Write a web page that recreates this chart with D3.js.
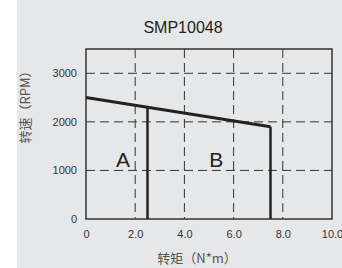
<!DOCTYPE html>
<html>
<head>
<meta charset="utf-8">
<script src="https://cdn.jsdelivr.net/npm/d3@7"></script>
<style>
  body { margin: 0; background: #fff; }
  svg { display: block; }
</style>
</head>
<body>
<div id="chart"></div>
<script>
// data
const title = "SMP10048";
const xTicks = [0, 2, 4, 6, 8, 10];
const yTicks = [0, 1000, 2000, 3000];
const curveTorque = [0, 2.5, 7.5];
const curveSpeed = [2500, 2300, 1900];
const zoneLabels = ["A", "B"];
const zoneLabelX = [1.5, 5.3];
const zoneLabelY = [1070, 1070];

const width = 342, height = 268;
const margin = {left: 86, right: 10, top: 49, bottom: 49};

const svg = d3.select("#chart").append("svg")
    .attr("width", width)
    .attr("height", height);

// grey panel
svg.append("rect")
    .attr("x", 17).attr("y", 0)
    .attr("width", width - 17).attr("height", height)
    .attr("fill", "#e6e7e8");

const x = d3.scaleLinear().domain([0, 10]).range([margin.left, width - margin.right]);
const y = d3.scaleLinear().domain([0, 3500]).range([height - margin.bottom, margin.top]);

// dashed grid
const grid = svg.append("g")
    .attr("stroke", "#333")
    .attr("stroke-width", 1)
    .attr("stroke-dasharray", "9,5");

grid.selectAll("line.v")
  .data(xTicks.slice(1, -1))
  .join("line")
    .attr("class", "v")
    .attr("x1", d => x(d)).attr("x2", d => x(d))
    .attr("y1", y(3500)).attr("y2", y(0));

grid.selectAll("line.h")
  .data(yTicks.slice(1))
  .join("line")
    .attr("class", "h")
    .attr("x1", x(0)).attr("x2", x(10))
    .attr("y1", d => y(d)).attr("y2", d => y(d));

// frame
svg.append("rect")
    .attr("x", x(0)).attr("y", y(3500))
    .attr("width", x(10) - x(0)).attr("height", y(0) - y(3500))
    .attr("fill", "none")
    .attr("stroke", "#333")
    .attr("stroke-width", 1.5);

// tick labels
const yAxis = svg.append("g")
    .attr("transform", `translate(${x(0)},0)`)
    .call(d3.axisLeft(y).tickValues(yTicks).tickSize(0).tickPadding(9).tickFormat(d3.format("d")));
yAxis.select(".domain").remove();

const xAxis = svg.append("g")
    .attr("transform", `translate(0,${y(0)})`)
    .call(d3.axisBottom(x).tickValues(xTicks).tickSize(0).tickPadding(11)
      .tickFormat(d => d === 0 ? "0" : d3.format(".1f")(d)));
xAxis.select(".domain").remove();

svg.selectAll(".tick text")
    .attr("font-family", "Liberation Sans, Arial, sans-serif")
    .attr("font-size", 11)
    .attr("fill", "#333");

// speed-torque curve
const pts = curveTorque.map((t, i) => [t, curveSpeed[i]]);
svg.append("path")
    .datum(pts)
    .attr("fill", "none")
    .attr("stroke", "#222")
    .attr("stroke-width", 3)
    .attr("d", d3.line().x(d => x(d[0])).y(d => y(d[1])));

// zone boundaries
svg.selectAll("line.zone")
  .data(pts.slice(1))
  .join("line")
    .attr("class", "zone")
    .attr("x1", d => x(d[0])).attr("x2", d => x(d[0]))
    .attr("y1", d => y(d[1])).attr("y2", y(0))
    .attr("stroke", "#222")
    .attr("stroke-width", 2.5);

svg.selectAll("text.zone")
  .data(zoneLabels)
  .join("text")
    .attr("class", "zone")
    .attr("x", (d, i) => x(zoneLabelX[i]))
    .attr("y", (d, i) => y(zoneLabelY[i]))
    .attr("text-anchor", "middle")
    .attr("font-family", "Liberation Sans, Arial, sans-serif")
    .attr("font-size", 21)
    .attr("fill", "#222")
    .text(d => d);

// title
svg.append("text")
    .attr("x", 183).attr("y", 33)
    .attr("text-anchor", "middle")
    .attr("font-family", "Liberation Sans, Arial, sans-serif")
    .attr("font-size", 16)
    .attr("fill", "#222")
    .text(title);

// axis titles
svg.append("text")
    .attr("transform", "translate(30,104) rotate(-90)")
    .attr("text-anchor", "middle")
    .attr("font-family", "Noto Sans CJK SC, sans-serif")
    .attr("font-size", 13)
    .attr("fill", "#555")
    .text("转速（RPM）");

svg.append("text")
    .attr("x", 197).attr("y", 263)
    .attr("text-anchor", "middle")
    .attr("font-family", "Noto Sans CJK SC, sans-serif")
    .attr("font-size", 13)
    .attr("fill", "#555")
    .text("转矩（N*m）");
</script>
</body>
</html>
